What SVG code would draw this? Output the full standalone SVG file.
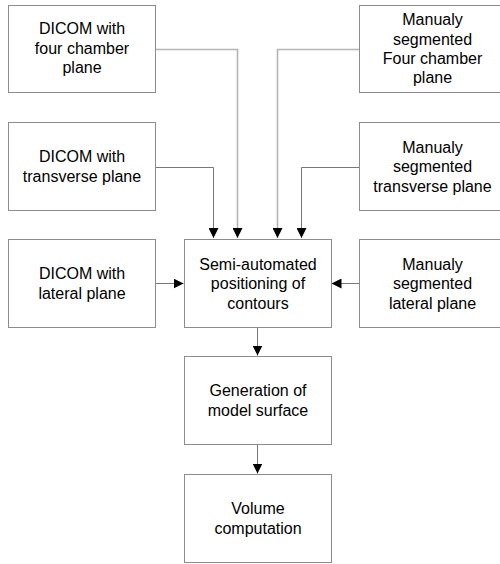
<svg xmlns="http://www.w3.org/2000/svg" width="500" height="564" viewBox="0 0 500 564">
<style>
.box{fill:#fff;stroke:#8c8c8c;stroke-width:1}
.t{font-family:"Liberation Sans",Arial,sans-serif;font-size:16px;fill:#000;text-anchor:middle}
.c{fill:none;stroke:#777;stroke-width:1}
.cl{fill:none;stroke:#b4b4b4;stroke-width:1.6}
</style>
<defs>
<marker id="ah" viewBox="0 0 10 10" refX="10" refY="5" markerWidth="10" markerHeight="10" markerUnits="userSpaceOnUse" orient="auto">
<path d="M0,0 L10,5 L0,10 Z" fill="#000"/>
</marker>
</defs>
<rect width="500" height="564" fill="#fff"/>
<g id="connectors">
<path class="cl" d="M155.5,49.5 H237.5 V238" marker-end="url(#ah)"/>
<path class="cl" d="M359.5,49.5 H277.5 V238" marker-end="url(#ah)"/>
<path class="c" d="M155.5,167.5 H213.5 V238" marker-end="url(#ah)"/>
<path class="c" d="M359.5,167.5 H301.5 V238" marker-end="url(#ah)"/>
<path class="c" d="M155.5,283.5 H183.5" marker-end="url(#ah)"/>
<path class="c" d="M359.5,283.5 H331.5" marker-end="url(#ah)"/>
<path class="c" d="M257.5,327.5 V355.5" marker-end="url(#ah)"/>
<path class="c" d="M257.5,444.5 V473.5" marker-end="url(#ah)"/>
</g>
<g id="n1"><rect class="box" x="8.5" y="5.5" width="147" height="87"/>
<text class="t" x="82" y="34">DICOM with</text><text class="t" x="82" y="53.5">four chamber</text><text class="t" x="82" y="73">plane</text></g>
<g id="n2"><rect class="box" x="359.5" y="5.5" width="147" height="87"/>
<text class="t" x="432.5" y="25">Manualy</text><text class="t" x="432.5" y="44.5">segmented</text><text class="t" x="432.5" y="64">Four chamber</text><text class="t" x="432.5" y="83">plane</text></g>
<g id="n3"><rect class="box" x="8.5" y="122.5" width="147" height="88"/>
<text class="t" x="82" y="162">DICOM with</text><text class="t" x="82" y="181.5">transverse plane</text></g>
<g id="n4"><rect class="box" x="359.5" y="122.5" width="147" height="88"/>
<text class="t" x="432.5" y="152.5">Manualy</text><text class="t" x="432.5" y="172">segmented</text><text class="t" x="432.5" y="191.5">transverse plane</text></g>
<g id="n5"><rect class="box" x="8.5" y="239.5" width="147" height="88"/>
<text class="t" x="82" y="279">DICOM with</text><text class="t" x="82" y="298.5">lateral plane</text></g>
<g id="n6"><rect class="box" x="184.5" y="239.5" width="147" height="88"/>
<text class="t" x="258" y="269.5">Semi-automated</text><text class="t" x="258" y="289">positioning of</text><text class="t" x="258" y="308.5">contours</text></g>
<g id="n7"><rect class="box" x="359.5" y="239.5" width="147" height="88"/>
<text class="t" x="432.5" y="269.5">Manualy</text><text class="t" x="432.5" y="289">segmented</text><text class="t" x="432.5" y="308.5">lateral plane</text></g>
<g id="n8"><rect class="box" x="184.5" y="356.5" width="147" height="88"/>
<text class="t" x="258" y="396">Generation of</text><text class="t" x="258" y="415.5">model surface</text></g>
<g id="n9"><rect class="box" x="184.5" y="474.5" width="147" height="88"/>
<text class="t" x="258" y="514">Volume</text><text class="t" x="258" y="533.5">computation</text></g>
</svg>
